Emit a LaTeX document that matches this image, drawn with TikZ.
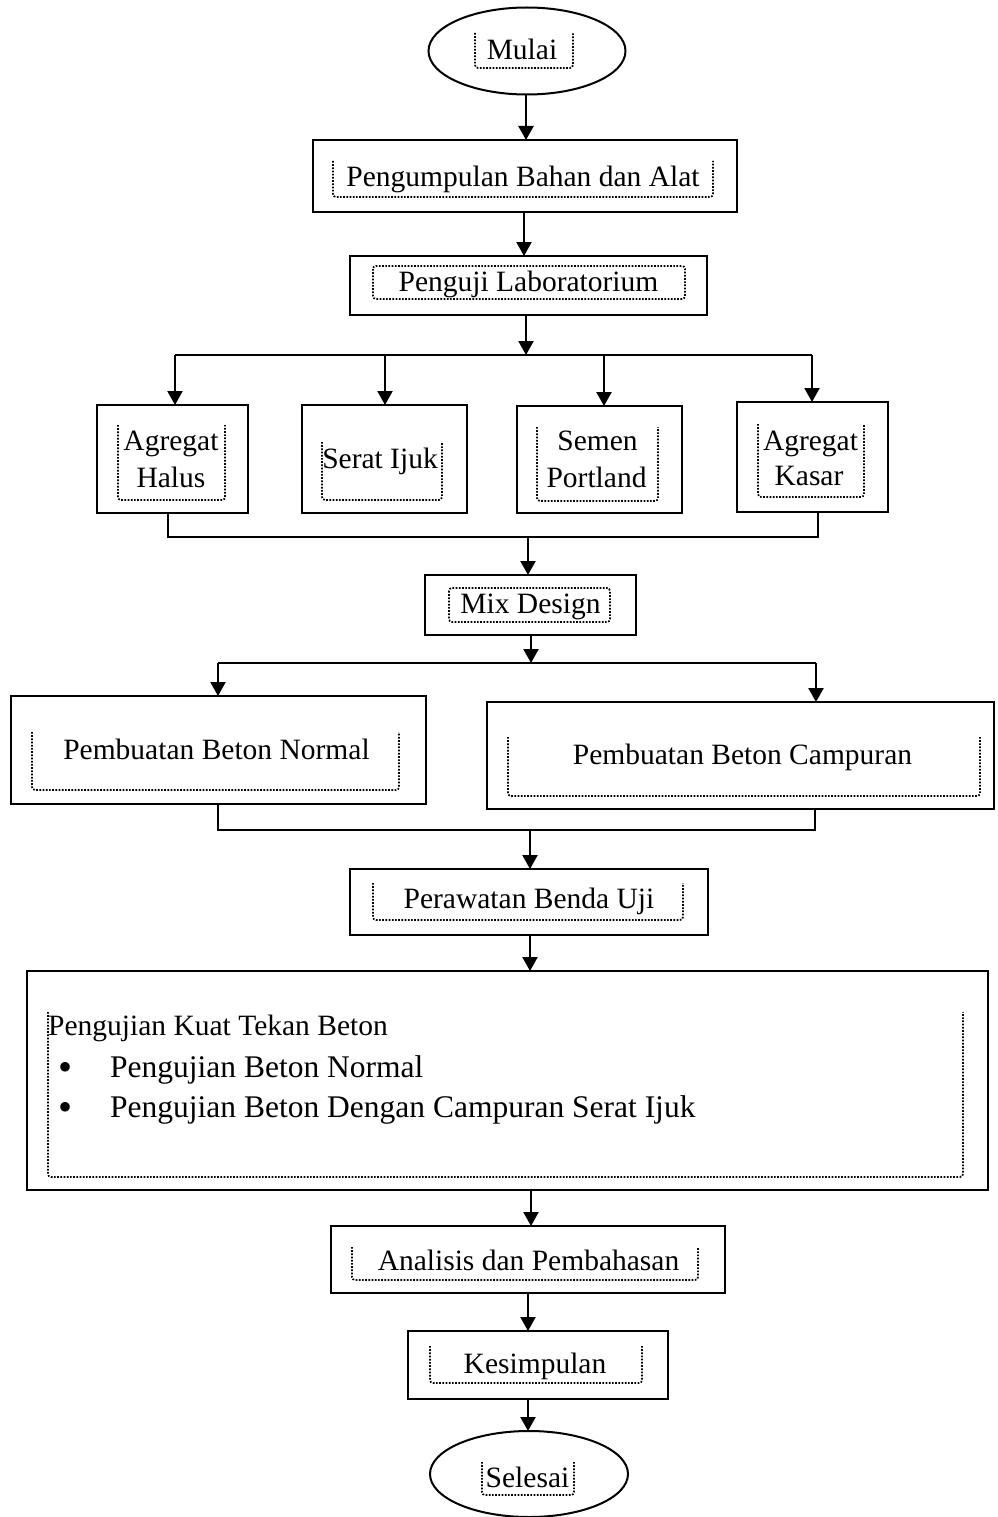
\documentclass[tikz,border=0pt]{standalone}
\usepackage{fontspec}
\setmainfont{Liberation Serif}
\usetikzlibrary{arrows.meta,shapes.geometric}
\newcommand\ufr[4]{\draw[dotfr] (#1,#3) -- (#1,#4) -- (#2,#4) -- (#2,#3);}
\newcommand\ffr[4]{\draw[dotfr] (#1,#3) rectangle (#2,#4);}
\begin{document}
\begin{tikzpicture}[x=1pt,y=-1pt,
 box/.style={draw,line width=2.2pt,inner sep=0pt,outer sep=0pt},
 oval/.style={draw,ellipse,line width=2pt,inner sep=0pt,outer sep=0pt},
 lbl/.style={anchor=base,inner sep=0pt,font=\fontsize{29.5}{37}\selectfont},
 big/.style={anchor=base,inner sep=0pt,font=\fontsize{31.5}{38}\selectfont},
 bul/.style={anchor=base,inner sep=0pt,font=\fontsize{40}{40}\selectfont},
 arr/.style={line width=2.2pt,-{Triangle[width=15pt,length=14pt]}},
 conn/.style={line width=2.2pt,line join=miter},
 dotfr/.style={line width=1.7pt,dash pattern=on 1.7pt off 1.5pt,rounded corners=3pt}]
\useasboundingbox (0,0) rectangle (997,1517);

% shapes
\node[oval,minimum width=197,minimum height=87] (mulai) at (527,51) {};
\node[box,minimum width=424,minimum height=72] (p1) at (525,176) {};
\node[box,minimum width=357,minimum height=59] (p2) at (528.5,285.5) {};
\node[box,minimum width=151,minimum height=108] (ah) at (172.5,459) {};
\node[box,minimum width=165,minimum height=108] (si) at (384.5,459) {};
\node[box,minimum width=165,minimum height=107] (sp) at (599.5,459.5) {};
\node[box,minimum width=151,minimum height=110] (ak) at (812.5,457) {};
\node[box,minimum width=211,minimum height=60] (mix) at (530.5,605) {};
\node[box,minimum width=415,minimum height=108] (bn) at (218.5,750) {};
\node[box,minimum width=507,minimum height=107] (bc) at (740.5,755.5) {};
\node[box,minimum width=358,minimum height=66] (pr) at (529,902) {};
\node[box,minimum width=961,minimum height=219] (uji) at (507.5,1080.5) {};
\node[box,minimum width=394,minimum height=67] (an) at (528,1259.5) {};
\node[box,minimum width=260,minimum height=68] (ks) at (538,1365) {};
\node[oval,minimum width=198,minimum height=86] (sl) at (529,1474) {};

% dotted text frames
\ufr{475}{573}{33}{68}
\ufr{333}{713}{161}{197}
\ffr{373}{685}{266}{299}
\ufr{118}{225}{425}{500}
\ufr{322}{442}{442}{500}
\ufr{537}{658}{427}{501}
\ufr{758}{864}{424}{497}
\ffr{449}{610}{588}{622}
\ufr{32}{399}{732}{790}
\ufr{508}{980}{737}{796}
\ufr{373}{683}{883}{920}
\ufr{48}{963}{1012}{1177}
\ufr{352}{698}{1247}{1280}
\ufr{430}{642}{1346}{1383}
\ufr{482}{574}{1462}{1495}

% texts
\node[lbl] (tmulai) at (522,60) {Mulai};
\node[lbl] (tp1) at (523,187) {Pengumpulan Bahan dan Alat};
\node[lbl] (tp2) at (528.5,291) {Penguji Laboratorium};
\node[lbl] (tah1) at (171,450) {Agregat};
\node[lbl] (tah2) at (171,487) {Halus};
\node[lbl] (tsi) at (380,468) {Serat Ijuk};
\node[lbl] (tsp1) at (597.5,450) {Semen};
\node[lbl] (tsp2) at (596.5,487) {Portland};
\node[lbl] (tak1) at (810.5,450) {Agregat};
\node[lbl] (tak2) at (809,485) {Kasar};
\node[lbl] (tmix) at (530.5,613) {Mix Design};
\node[lbl] (tbn) at (216.5,759) {Pembuatan Beton Normal};
\node[lbl] (tbc) at (742.5,764) {Pembuatan Beton Campuran};
\node[lbl] (tpr) at (529,908) {Perawatan Benda Uji};
\node[lbl,anchor=base west] (tuji) at (48,1035) {Pengujian Kuat Tekan Beton};
\node[bul] (b1) at (66,1080) {•};
\node[big,anchor=base west] (tu1) at (110,1077) {Pengujian Beton Normal};
\node[bul] (b2) at (66,1120) {•};
\node[big,anchor=base west] (tu2) at (110,1117) {Pengujian Beton Dengan Campuran Serat Ijuk};
\node[lbl] (tan) at (528.5,1270) {Analisis dan Pembahasan};
\node[lbl] (tks) at (535,1373) {Kesimpulan};
\node[lbl] (tsl) at (527.5,1487) {Selesai};

% connectors
\coordinate (a0) at (526,0);
\draw[arr] (a0 |- mulai.south) -- (a0 |- p1.north);
\coordinate (a1) at (524,0);
\draw[arr] (a1 |- p1.south) -- (a1 |- p2.north);

\coordinate (j1) at (526,355);
\coordinate (h1a) at (175,355);
\coordinate (h1b) at (385,355);
\coordinate (h1c) at (604,355);
\coordinate (h1d) at (812,355);
\draw[arr] (j1 |- p2.south) -- (j1);
\draw[conn] (h1a) -- (h1d);
\draw[arr] (h1a) -- (h1a |- ah.north);
\draw[arr] (h1b) -- (h1b |- si.north);
\draw[arr] (h1c) -- (h1c |- sp.north);
\draw[arr] (h1d) -- (h1d |- ak.north);

\coordinate (m1a) at (168,537);
\coordinate (m1b) at (818,537);
\coordinate (m1) at (528,537);
\draw[conn] (m1a |- ah.south) -- (m1a) -- (m1b) -- (m1b |- ak.south);
\draw[arr] (m1) -- (m1 |- mix.north);

\coordinate (j2) at (531,663);
\coordinate (h2a) at (218,663);
\coordinate (h2b) at (816,663);
\draw[arr] (j2 |- mix.south) -- (j2);
\draw[conn] (h2a) -- (h2b);
\draw[arr] (h2a) -- (h2a |- bn.north);
\draw[arr] (h2b) -- (h2b |- bc.north);

\coordinate (m2a) at (218,830);
\coordinate (m2b) at (815,830);
\coordinate (m2) at (530,830);
\draw[conn] (m2a |- bn.south) -- (m2a) -- (m2b) -- (m2b |- bc.south);
\draw[arr] (m2) -- (m2 |- pr.north);

\coordinate (a2) at (530,0);
\draw[arr] (a2 |- pr.south) -- (a2 |- uji.north);
\coordinate (a3) at (531,0);
\draw[arr] (a3 |- uji.south) -- (a3 |- an.north);
\coordinate (a4) at (528,0);
\draw[arr] (a4 |- an.south) -- (a4 |- ks.north);
\draw[arr] (a4 |- ks.south) -- (a4 |- sl.north);
\end{tikzpicture}
\end{document}
